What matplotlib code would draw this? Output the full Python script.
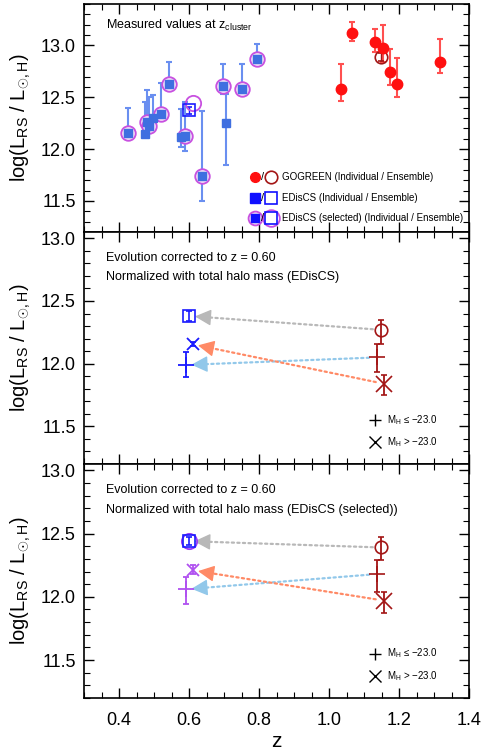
import numpy as np
import matplotlib
matplotlib.use("Agg")
from matplotlib import pyplot as plt
from matplotlib.ticker import MultipleLocator

plt.rcParams['font.family'] = ['Liberation Sans', 'DejaVu Sans']
plt.rcParams['mathtext.fontset'] = 'custom'
plt.rcParams['mathtext.rm'] = 'Liberation Sans'
plt.rcParams['mathtext.it'] = 'Liberation Sans:italic'
plt.rcParams['mathtext.sf'] = 'Liberation Sans'

# ---- top panel: measured values at z_cluster ----
gg_z = [1.034, 1.067, 1.131, 1.155, 1.175, 1.195, 1.318]
gg_val = [12.58, 13.12, 13.03, 12.98, 12.74, 12.63, 12.84]
gg_lo = [12.46, 13.04, 12.94, 12.84, 12.62, 12.50, 12.73]
gg_hi = [12.82, 13.23, 13.16, 13.20, 12.97, 12.88, 13.06]
gg_ens = (1.149, 12.89, 12.85, 12.93)

ed_z = [0.427, 0.474, 0.481, 0.485, 0.496, 0.519, 0.542, 0.577, 0.589, 0.638, 0.698, 0.705, 0.751, 0.794]
ed_val = [12.16, 12.15, 12.26, 12.22, 12.30, 12.34, 12.63, 12.12, 12.13, 11.74, 12.61, 12.25, 12.58, 12.87]
ed_lo = [12.14, 12.13, 12.20, 12.19, 12.28, 12.32, 12.61, 12.02, 11.98, 11.50, 12.53, 11.85, 12.52, 12.85]
ed_hi = [12.40, 12.45, 12.57, 12.50, 12.52, 12.64, 12.84, 12.39, 12.45, 12.37, 12.82, 12.53, 12.82, 13.01]
ed_sel = [1, 0, 1, 1, 0, 1, 1, 0, 1, 1, 1, 0, 1, 1]
ed_ens = (0.601, 12.375, 12.34, 12.41)
ed_sel_ens = (0.61, 12.44)

# ---- lower panels: evolution corrected to z = 0.60 ----
# each: (z, value, lo, hi) for GOGREEN ensemble / bright / faint and EDisCS ones
mid_gg = {'all': (1.149, 12.27, 12.16, 12.35), 'bright': (1.138, 12.05, 11.93, 12.16),
          'faint': (1.157, 11.84, 11.75, 11.91)}
mid_ed = {'all': (0.601, 12.38, 12.34, 12.42), 'bright': (0.591, 11.99, 11.89, 12.09),
          'faint': (0.610, 12.155, 12.14, 12.17)}
bot_gg = {'all': (1.149, 12.39, 12.29, 12.47), 'bright': (1.138, 12.18, 12.04, 12.29),
          'faint': (1.157, 11.97, 11.87, 12.04)}
bot_ed = {'all': (0.599, 12.44, 12.41, 12.47), 'bright': (0.591, 12.06, 11.94, 12.16),
          'faint': (0.610, 12.21, 12.18, 12.25)}

RED = '#ff1010'
DRED = '#a31515'
BLUE = '#3f6fe0'
PURP = '#c850e0'
EBLUE = '#1a1aff'
VIOL = '#b050f0'

fig = plt.figure(figsize=(4.88, 7.53), dpi=100)
L, W = 84 / 488, 385 / 488
ax1 = fig.add_axes([L, 1 - 232 / 753, W, 228 / 753])
ax2 = fig.add_axes([L, 1 - 464 / 753, W, 232 / 753])
ax3 = fig.add_axes([L, 1 - 698 / 753, W, 234 / 753])

ylab = r'log(L$_{\mathregular{RS}}$ / L$_{\odot\mathregular{,H}}$)'
for ax in (ax1, ax2, ax3):
    ax.set_xlim(0.3, 1.4)
    ax.xaxis.set_major_locator(MultipleLocator(0.2))
    ax.xaxis.set_minor_locator(MultipleLocator(0.05))
    ax.yaxis.set_major_locator(MultipleLocator(0.5))
    ax.yaxis.set_minor_locator(MultipleLocator(0.1))
    ax.tick_params(which='both', direction='in', top=True, right=True, labelsize=13, pad=6)
    ax.tick_params(which='major', length=7, width=1)
    ax.tick_params(which='minor', length=4, width=0.8)
    ax.set_ylabel(ylab, fontsize=14.5)
    ax.yaxis.set_major_formatter(matplotlib.ticker.FormatStrFormatter('%.1f'))
    for s in ax.spines.values():
        s.set_linewidth(1.2)

ax1.set_ylim(11.2, 13.4)
ax2.set_ylim(11.2, 13.05)
ax3.set_ylim(11.2, 13.05)
ax1.tick_params(labelbottom=False)
ax2.tick_params(labelbottom=False)
ax3.set_xlabel('z', fontsize=15, labelpad=2)
ax3.tick_params(axis='x', pad=10)

# ---- top panel ----
ax = ax1
gz, gv = np.array(gg_z), np.array(gg_val)
ax.errorbar(gz, gv, yerr=[gv - np.array(gg_lo), np.array(gg_hi) - gv], fmt='none',
            ecolor='#ff5050', elinewidth=1.5, capsize=2.5, capthick=1.5, zorder=2)
ax.plot(gz, gv, 'o', color=RED, ms=7.5, zorder=3)
ax.errorbar([gg_ens[0]], [gg_ens[1]], yerr=[[gg_ens[1] - gg_ens[2]], [gg_ens[3] - gg_ens[1]]],
            fmt='o', mfc='none', mec=DRED, ecolor=DRED, ms=9, mew=1.2, elinewidth=1, capsize=2)

ez, ev = np.array(ed_z), np.array(ed_val)
sel = np.array(ed_sel, dtype=bool)
ax.errorbar(ez, ev, yerr=[ev - np.array(ed_lo), np.array(ed_hi) - ev], fmt='none',
            ecolor='#6a8ff0', elinewidth=1.5, capsize=2.5, capthick=1.5, zorder=2)
ax.plot(ez[sel], ev[sel], 'o', mfc='#f1e0f7', mec=PURP, ms=10.5, mew=1.3, zorder=3)
ax.plot(ez, ev, 's', color=BLUE, ms=6.2, zorder=4)
ax.errorbar([ed_ens[0]], [ed_ens[1]], yerr=[[ed_ens[1] - ed_ens[2]], [ed_ens[3] - ed_ens[1]]],
            fmt='s', mfc='none', mec=EBLUE, ecolor=EBLUE, ms=8, mew=1.2, elinewidth=1, capsize=2, zorder=5)
ax.plot([ed_sel_ens[0]], [ed_sel_ens[1]], 'o', mfc='none', mec=PURP, ms=11, mew=1.3, zorder=5)

ax.text(0.057, 0.908, r'Measured values at z$_{\mathregular{cluster}}$', transform=ax.transAxes,
        fontsize=9, va='center')

tr = ax.transAxes
rows = [0.2425, 0.150, 0.060]
labels = ['GOGREEN (Individual / Ensemble)', 'EDisCS (Individual / Ensemble)',
          'EDisCS (selected) (Individual / Ensemble)']
ax.plot(0.444, rows[0], 'o', color=RED, ms=7, transform=tr, clip_on=False)
ax.plot(0.486, rows[0], 'o', mfc='none', mec=DRED, ms=9, mew=1.2, transform=tr, clip_on=False)
ax.plot(0.444, rows[1], 's', color='#1010ff', ms=6.5, transform=tr, clip_on=False)
ax.plot(0.486, rows[1], 's', mfc='none', mec='#1010ff', ms=9, mew=1.2, transform=tr, clip_on=False)
ax.plot(0.444, rows[2], 'o', mfc='#f1e0f7', mec=PURP, ms=10, mew=1.3, transform=tr, clip_on=False)
ax.plot(0.444, rows[2], 's', color='#1010ff', ms=6, transform=tr, clip_on=False)
ax.plot(0.486, rows[2], 'o', mfc='none', mec=PURP, ms=12, mew=1.3, transform=tr, clip_on=False)
ax.plot(0.486, rows[2], 's', mfc='none', mec='#1010ff', ms=8.5, mew=1.2, transform=tr, clip_on=False)
for r, lab in zip(rows, labels):
    ax.text(0.465, r, '/', transform=tr, fontsize=8, ha='center', va='center')
    ax.text(0.513, r, lab, transform=tr, fontsize=7, va='center')


def evolution_panel(ax, gg, ed, col, circle_col, subtitle):
    arrow_cols = {'all': '#b8b8b8', 'bright': '#92c8ea', 'faint': '#ff8a66'}
    for key in ('all', 'bright', 'faint'):
        z0, v0 = gg[key][0], gg[key][1]
        z1, v1 = ed[key][0], ed[key][1]
        # dotted shaft
        ax.annotate('', xy=(z1, v1), xytext=(z0, v0),
                    arrowprops=dict(arrowstyle='-', color=arrow_cols[key], lw=1.6,
                                    linestyle=(0, (1, 1.5)), shrinkA=6, shrinkB=14), zorder=1)
        # solid head
        zh = z1 + 0.1 * (z0 - z1)
        vh = v1 + 0.1 * (v0 - v1)
        ax.annotate('', xy=(z1, v1), xytext=(zh, vh),
                    arrowprops=dict(arrowstyle='-|>,head_length=1.0,head_width=0.5',
                                    color=arrow_cols[key], lw=1.0, shrinkA=0, shrinkB=4), zorder=1)
    marks = {'all': 'o', 'bright': '+', 'faint': 'x'}
    for key in ('all', 'bright', 'faint'):
        z, v, lo, hi = gg[key]
        ax.errorbar([z], [v], yerr=[[v - lo], [hi - v]], fmt=marks[key], color=DRED,
                    mfc='none', ms=12 if key != 'all' else 9, mew=1.2, elinewidth=1.3,
                    capsize=2.5, zorder=3)
    for key in ('bright', 'faint'):
        z, v, lo, hi = ed[key]
        ax.errorbar([z], [v], yerr=[[v - lo], [hi - v]], fmt=marks[key], color=col,
                    ms=12 if key == 'bright' else 9, mew=1.3, elinewidth=1.3, capsize=2.5, zorder=3)
    z, v, lo, hi = ed['all']
    if circle_col is not None:
        ax.plot([z], [v], 'o', mfc='none', mec=circle_col, ms=11, mew=1.3, zorder=4)
    ax.errorbar([z], [v], yerr=[[v - lo], [hi - v]], fmt='s', color=EBLUE, mfc='none',
                ms=8, mew=1.2, elinewidth=1.2, capsize=2, zorder=4)

    tr = ax.transAxes
    ax.text(0.057, 0.887, 'Evolution corrected to z = 0.60', transform=tr, fontsize=9, va='center')
    ax.text(0.057, 0.805, subtitle, transform=tr, fontsize=9, va='center')
    ax.plot(0.756, 0.19, '+', color='black', ms=9, mew=1, transform=tr)
    ax.plot(0.756, 0.095, 'x', color='black', ms=8, mew=1, transform=tr)
    ax.text(0.786, 0.19, r'M$_{\mathregular{H}}$ ≤ −23.0', transform=tr, fontsize=7, va='center')
    ax.text(0.786, 0.095, r'M$_{\mathregular{H}}$ > −23.0', transform=tr, fontsize=7, va='center')


evolution_panel(ax2, mid_gg, mid_ed, EBLUE, None, 'Normalized with total halo mass (EDisCS)')
evolution_panel(ax3, bot_gg, bot_ed, VIOL, '#9b3cf5',
                'Normalized with total halo mass (EDisCS (selected))')

for ax in (ax1, ax2, ax3):
    ax.yaxis.set_label_coords(-0.132, 0.5)

fig.savefig('out.png', dpi=100)
